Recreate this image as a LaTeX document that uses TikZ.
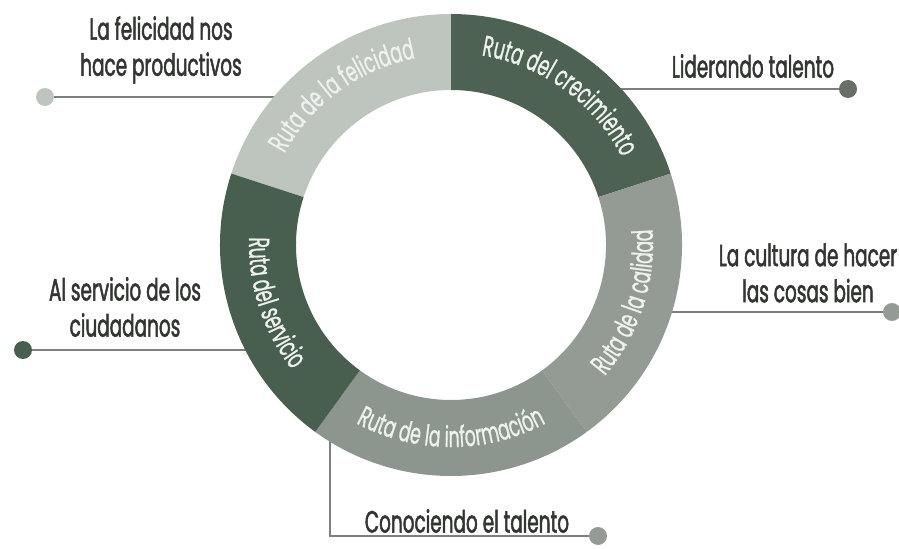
\documentclass[tikz,border=0pt]{standalone}
\usepackage{fontspec}
\setmainfont{Poppins}[FakeStretch=0.6]
\newfontfamily\labelfamily{Poppins}[FakeStretch=0.6,FakeBold=1.6]
\newfontfamily\ringfamily{Poppins}[FakeStretch=0.6,FakeBold=0.8]
\usetikzlibrary{decorations.text}
\newcommand{\labelfont}{\labelfamily\fontsize{17.5}{20.5}\selectfont}
\newcommand{\ringfont}{\ringfamily\fontsize{16.5}{19}\selectfont}
\begin{document}
\begin{tikzpicture}[x=0.02cm,y=0.02cm,
    label/.style={align=center,font=\labelfont,text=labeltext,inner sep=0pt},
    dot/.style={shape=circle,minimum size=0.36cm,inner sep=0pt},
    conn/.style={line width=0.04cm,color=connline},
    ringtext/.style={decorate,decoration={text along path,text align=center,text={|\ringfont\color{ringwhite}|#1}}}]
    \definecolor{rfeli}{RGB}{190,196,190}
    \definecolor{rcrec}{RGB}{78,98,84}
    \definecolor{rcali}{RGB}{148,155,148}
    \definecolor{rinfo}{RGB}{140,150,142}
    \definecolor{rserv}{RGB}{72,94,78}
    \definecolor{dlider}{RGB}{105,110,105}
    \definecolor{labeltext}{RGB}{50,53,50}
    \definecolor{connline}{RGB}{125,128,125}
    \definecolor{ringwhite}{RGB}{238,242,238}
    \useasboundingbox (0,0) rectangle (899,548);
    \node[dot,fill=rfeli] (dfeli) at (45,451) {};
    \node[dot,fill=dlider] (dcrec) at (848,459) {};
    \node[dot,fill=rcali] (dcali) at (892,236) {};
    \node[dot,fill=rserv] (dserv) at (23,198) {};
    \node[dot,fill=rcali] (dinfo) at (598,12) {};
    \coordinate (rfeli) at (290,451);
    \coordinate (rcrec) at (600,459);
    \coordinate (rcali) at (660,236);
    \coordinate (rserv) at (260,198);
    \coordinate (rinfo) at (330,118);
    \coordinate (binfo) at (330,12);
    \draw[conn] (dfeli) to (rfeli);
    \draw[conn] (rcrec) to (dcrec);
    \draw[conn] (rcali) to (dcali);
    \draw[conn] (dserv) to (rserv);
    \draw[conn] (rinfo) to (binfo) to (dinfo);
    \node[label] (lfeli) at (161,498) {La felicidad nos\\hace productivos};
    \node[label] (lcrec) at (753,482) {Liderando talento};
    \node[label] (lcali) at (808,275) {La cultura de hacer\\las cosas bien};
    \node[label] (lserv) at (125,241) {Al servicio de los\\ciudadanos};
    \node[label] (linfo) at (467,27) {Conociendo el talento};
    \begin{scope}[shift={(451,303)}]
    \fill[rfeli] (90:231) arc (90:162:231) to (162:155) arc (162:90:155) to cycle;
    \fill[rcrec] (18:231) arc (18:90:231) to (90:155) arc (90:18:155) to cycle;
    \fill[rcali] (-54:231) arc (-54:18:231) to (18:155) arc (18:-54:155) to cycle;
    \fill[rinfo] (-126:231) arc (-126:-54:231) to (-54:155) arc (-54:-126:155) to cycle;
    \fill[rserv] (162:231) arc (162:234:231) to (234:155) arc (234:162:155) to cycle;
    \path[ringtext={Ruta de la felicidad}] (162:190) arc (162:90:190);
    \path[ringtext={Ruta del crecimiento}] (90:192) arc (90:18:192);
    \path[ringtext={Ruta de la calidad}] (-54:202) arc (-54:18:202);
    \path[ringtext={Ruta de la información}] (-126:202) arc (-126:-54:202);
    \path[ringtext={Ruta del servicio}] (162:202) arc (162:234:202);
    \end{scope}
\end{tikzpicture}
\end{document}
